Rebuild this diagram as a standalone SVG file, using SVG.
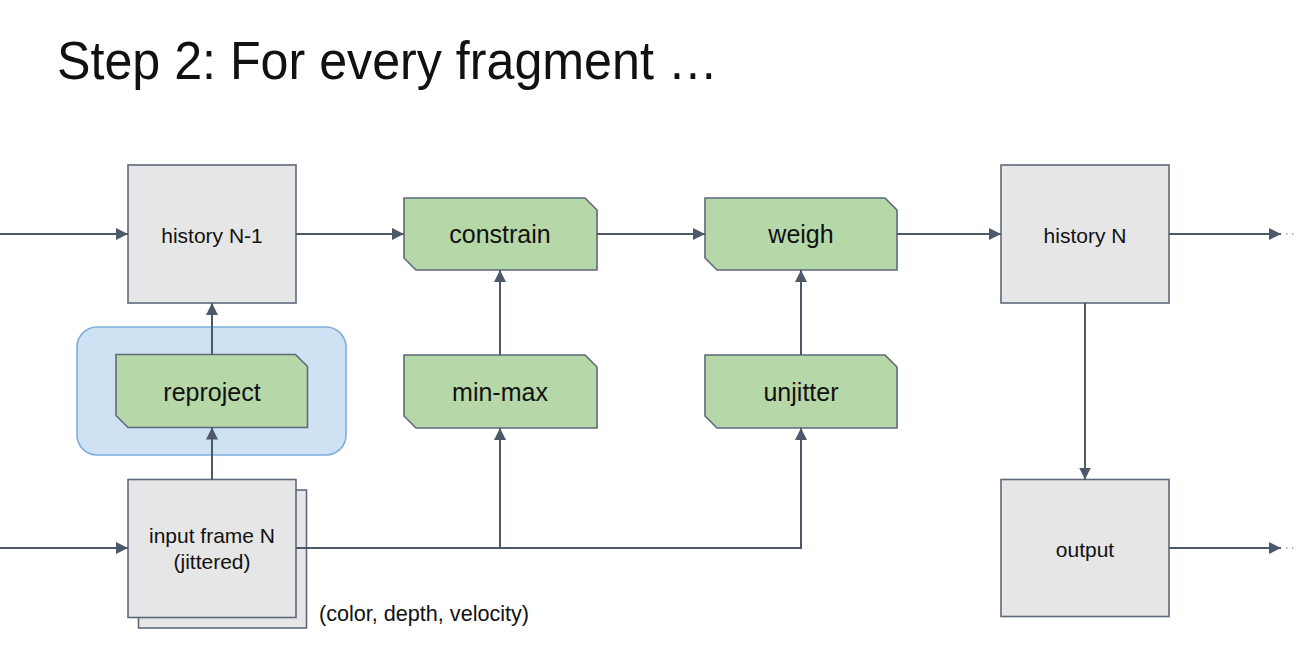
<svg xmlns="http://www.w3.org/2000/svg" width="1298" height="647" viewBox="0 0 1298 647">
<style>
.gray{fill:#e6e6e6;stroke:#5e6a7b;stroke-width:1.6}
.green{fill:#b6d7a8;stroke:#5e6a7b;stroke-width:1.6}
.blue{fill:#cfe2f3;stroke:#7eaedc;stroke-width:1.6}
.conn{fill:none;stroke:#4d596b;stroke-width:2}
.dots{fill:none;stroke:#a0a8b4;stroke-width:1.5;stroke-dasharray:1.5,4.5}
.t{font-family:"Liberation Sans",Arial,sans-serif;fill:#111;text-anchor:middle}
.g{font-size:21px}
.gr{font-size:25px}
</style>
<defs>
<marker id="ah" markerUnits="userSpaceOnUse" markerWidth="13" markerHeight="13" refX="12" refY="6" orient="auto">
<path d="M0,0 L12,6 L0,12 z" fill="#4d596b"/>
</marker>
</defs>
<rect width="1298" height="647" fill="#ffffff"/>
<text x="57" y="79" font-family="'Liberation Sans',Arial,sans-serif" font-size="53" fill="#111" textLength="661" lengthAdjust="spacingAndGlyphs">Step 2: For every fragment …</text>

<g id="reproject-group">
<rect class="blue" x="77" y="327" width="269" height="128" rx="20" ry="20"/>
</g>

<g id="history-n-1">
<rect class="gray" x="128" y="165" width="168" height="138"/>
<text class="t g" x="212" y="243">history N-1</text>
</g>

<g id="input-frame">
<rect class="gray" x="138.5" y="490" width="168" height="138"/>
<rect class="gray" x="128" y="479.5" width="168" height="138"/>
<text class="t g" x="212" y="543">input frame N</text>
<text class="t g" x="212" y="569">(jittered)</text>
<text x="319" y="621" font-family="'Liberation Sans',Arial,sans-serif" font-size="21.6" fill="#111">(color, depth, velocity)</text>
</g>

<g id="reproject">
<path class="green" d="M116,354.5 H295.5 L307.5,366.5 V427.5 H128 L116,415.5 Z"/>
<text class="t gr" x="212" y="401">reproject</text>
</g>

<g id="constrain">
<path class="green" d="M404,198 H585 L597,210 V270 H416 L404,258 Z"/>
<text class="t gr" x="500" y="243">constrain</text>
</g>

<g id="min-max">
<path class="green" d="M404,355 H585 L597,367 V428 H416 L404,416 Z"/>
<text class="t gr" x="500" y="401">min-max</text>
</g>

<g id="weigh">
<path class="green" d="M705,198 H885 L897,210 V270 H717 L705,258 Z"/>
<text class="t gr" x="801" y="243">weigh</text>
</g>

<g id="unjitter">
<path class="green" d="M705,355 H885 L897,367 V428 H717 L705,416 Z"/>
<text class="t gr" x="801" y="401">unjitter</text>
</g>

<g id="history-n">
<rect class="gray" x="1001" y="165" width="168" height="138"/>
<text class="t g" x="1085" y="243">history N</text>
</g>

<g id="output">
<rect class="gray" x="1001" y="479.5" width="168" height="137"/>
<text class="t g" x="1085" y="557">output</text>
</g>

<g id="connectors">
<line class="conn" x1="0" y1="234" x2="128" y2="234" marker-end="url(#ah)"/>
<line class="conn" x1="0" y1="548" x2="128" y2="548" marker-end="url(#ah)"/>
<line class="conn" x1="296" y1="234" x2="404" y2="234" marker-end="url(#ah)"/>
<line class="conn" x1="597" y1="234" x2="705" y2="234" marker-end="url(#ah)"/>
<line class="conn" x1="897" y1="234" x2="1001" y2="234" marker-end="url(#ah)"/>
<line class="conn" x1="1169" y1="234" x2="1281" y2="234" marker-end="url(#ah)"/>
<line class="dots" x1="1286" y1="234" x2="1298" y2="234"/>
<line class="conn" x1="1169" y1="548" x2="1281" y2="548" marker-end="url(#ah)"/>
<line class="dots" x1="1286" y1="548" x2="1298" y2="548"/>
<line class="conn" x1="1085" y1="303" x2="1085" y2="479.5" marker-end="url(#ah)"/>
<line class="conn" x1="212" y1="479.5" x2="212" y2="427.5" marker-end="url(#ah)"/>
<line class="conn" x1="212" y1="354.5" x2="212" y2="303" marker-end="url(#ah)"/>
<polyline class="conn" points="296,548 801,548 801,428" marker-end="url(#ah)"/>
<line class="conn" x1="500" y1="548" x2="500" y2="428" marker-end="url(#ah)"/>
<line class="conn" x1="500" y1="355" x2="500" y2="270" marker-end="url(#ah)"/>
<line class="conn" x1="801" y1="355" x2="801" y2="270" marker-end="url(#ah)"/>
</g>
</svg>
